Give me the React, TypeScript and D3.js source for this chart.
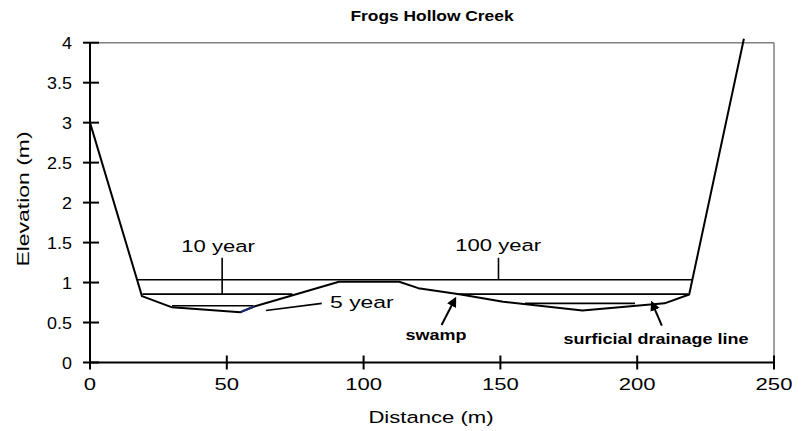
import React from 'react';
import * as d3 from 'd3';

// Ground profile across the creek valley
const distance = [0, 19, 30, 55, 60, 91, 113, 120, 135, 151, 180, 210, 219, 239];
const elevation = [3, 0.83, 0.69, 0.63, 0.7, 1.01, 1.01, 0.93, 0.855, 0.76, 0.65, 0.74, 0.85, 4.05];

// Flood water levels (level, and the stretches where the water sits)
const floodNames = ['100 year', '10 year', '5 year'];
const floodLevels = [1.035, 0.855, 0.71];
const floodSpans = [
  [[17.5, 220.2]],
  [[19.2, 74], [135, 218.7]],
  [[30, 59.7], [159, 199.2]],
];
const floodLevel5Right = 0.74;

// Axis ticks
const xTicks = [0, 50, 100, 150, 200, 250];
const yTicks = [0, 0.5, 1, 1.5, 2, 2.5, 3, 3.5, 4];

const W = 803;
const H = 431;

const StretchText = ({ x, y, sx = 1.3, anchor = 'middle', size = 16, bold = false, rotate = 0, children }: any) => (
  <text
    transform={`translate(${x},${y}) rotate(${rotate}) scale(${sx},1)`}
    textAnchor={anchor}
    fontSize={size}
    fontWeight={bold ? 'bold' : 'normal'}
    fontFamily="'Liberation Sans', Arial, sans-serif"
    fill="#000"
  >
    {children}
  </text>
);

export default function App() {
  const x = d3.scaleLinear().domain([0, 250]).range([90, 774]);
  const y = d3.scaleLinear().domain([0, 4]).range([362.5, 42.7]);

  const line = d3
    .line<number>()
    .x((_, i) => x(distance[i]))
    .y((d) => y(d));

  const groundPath = line(elevation) || '';

  const [x0, x1] = x.range();
  const [yb, yt] = y.range();

  const arrow = (tx: number, ty: number, hx: number, hy: number, key: string) => (
    <line key={key} x1={x(tx)} y1={y(ty)} x2={x(hx)} y2={y(hy)} stroke="#000" strokeWidth={2} markerEnd="url(#arrowHead)" />
  );

  return (
    <svg width={W} height={H} style={{ position: 'absolute', left: 0, top: 0, background: '#fff' }}>
      <defs>
        <marker id="arrowHead" viewBox="0 0 10 10" refX="8" refY="5" markerWidth="5" markerHeight="5" orient="auto">
          <path d="M0,0 L10,5 L0,10 z" fill="#000" />
        </marker>
      </defs>

      {/* frame */}
      <line x1={x0} x2={x1} y1={yt} y2={yt} stroke="#808080" strokeWidth={1.5} />
      <line x1={x1} x2={x1} y1={yt} y2={yb} stroke="#808080" strokeWidth={1.5} />

      {/* flood levels */}
      {floodSpans.map((spans, i) =>
        spans.map((s, j) => {
          const lvl = i === 2 && j === 1 ? floodLevel5Right : floodLevels[i];
          return (
            <line key={`${floodNames[i]}-${j}`} x1={x(s[0])} x2={x(s[1])} y1={y(lvl)} y2={y(lvl)} stroke="#000" strokeWidth={1.6} />
          );
        })
      )}

      {/* ground profile */}
      <path d={groundPath} fill="none" stroke="#000" strokeWidth={2} strokeLinejoin="round" />
      <line x1={x(distance[3])} y1={y(elevation[3])} x2={x(distance[4])} y2={y(elevation[4])} stroke="#1a2a6c" strokeWidth={2} />

      {/* annotation leaders */}
      <line x1={x(48.3)} x2={x(48.3)} y1={y(1.31)} y2={y(floodLevels[1])} stroke="#000" strokeWidth={1.6} />
      <line x1={x(149.3)} x2={x(149.3)} y1={y(1.31)} y2={y(floodLevels[0])} stroke="#000" strokeWidth={1.6} />
      <line x1={x(64.3)} y1={y(0.65)} x2={x(84.7)} y2={y(0.74)} stroke="#000" strokeWidth={1.6} />
      {arrow(128.5, 0.47, 133.5, 0.8, 'swampArrow')}
      {arrow(209, 0.46, 205.4, 0.75, 'drainArrow')}

      <StretchText x={x(46.8)} y={252} size={17} sx={1.3}>10 year</StretchText>
      <StretchText x={x(149.2)} y={251} size={17} sx={1.3}>100 year</StretchText>
      <StretchText x={330} y={308} size={17} sx={1.35} anchor="start">5 year</StretchText>
      <StretchText x={436} y={340} size={15} sx={1.2} bold>swamp</StretchText>
      <StretchText x={656} y={344} size={15} sx={1.2} bold>surficial drainage line</StretchText>

      {/* axes */}
      <line x1={x0} x2={x0} y1={yt} y2={yb} stroke="#000" strokeWidth={2} />
      <line x1={x0} x2={x1} y1={yb} y2={yb} stroke="#000" strokeWidth={2} />
      {yTicks.map((t) => (
        <g key={`y${t}`}>
          <line x1={x0 - 7} x2={x0 + 9} y1={y(t)} y2={y(t)} stroke="#000" strokeWidth={2} />
          <StretchText x={72} y={y(t) + 6} anchor="end" size={16} sx={1.12}>{String(t)}</StretchText>
        </g>
      ))}
      {xTicks.map((t) => (
        <g key={`x${t}`}>
          <line x1={x(t)} x2={x(t)} y1={yb - 7} y2={yb + 7} stroke="#000" strokeWidth={2} />
          <StretchText x={x(t)} y={390} size={16} sx={1.38}>{String(t)}</StretchText>
        </g>
      ))}

      {/* titles */}
      <StretchText x={432} y={21} size={14.5} bold sx={1.2}>Frogs Hollow Creek</StretchText>
      <StretchText x={431} y={423} size={17} sx={1.3}>Distance (m)</StretchText>
      <StretchText x={29} y={199} size={17} sx={1.35} rotate={-90}>Elevation (m)</StretchText>
    </svg>
  );
}
